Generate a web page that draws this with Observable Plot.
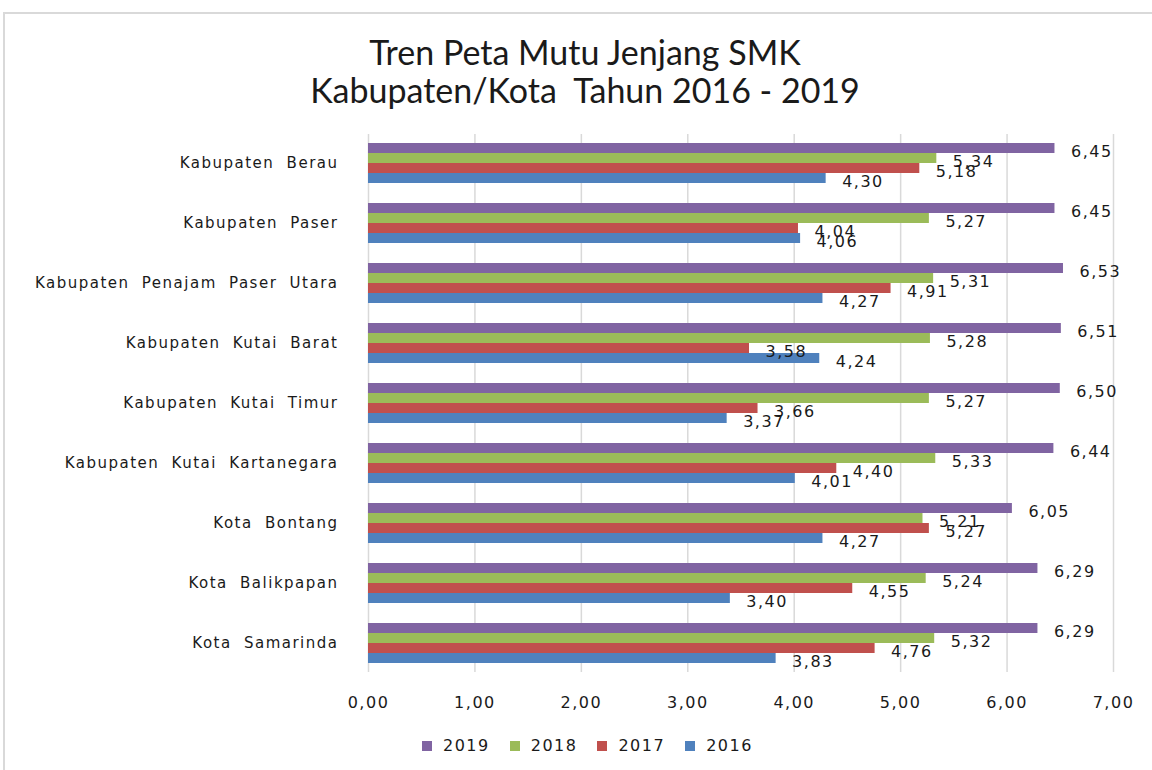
<!DOCTYPE html>
<html>
<head>
<meta charset="utf-8">
<script src="https://cdn.jsdelivr.net/npm/d3@7"></script>
<script src="https://cdn.jsdelivr.net/npm/@observablehq/plot@0.6"></script>
<style>
  body { margin:0; background:#fff; width:1152px; height:770px; overflow:hidden; position:relative; font-family:"DejaVu Sans", sans-serif; }
  #frame { position:absolute; left:3px; top:12px; width:1200px; height:800px; border:2px solid #d9d9d9; box-sizing:border-box; }
  #title { position:absolute; left:0; top:33px; width:1170px; text-align:center; font-family:Lato, sans-serif; font-size:34px; line-height:38px; color:#1a1a1a; white-space:pre; }
  #chart { position:absolute; left:0; top:120px; }
  #chart svg g[aria-label="y-axis tick label"] text { font-size:15px; letter-spacing:1.5px; word-spacing:6px; fill:#1a1a1a; }
  #chart svg g[aria-label="x-axis tick label"] text { font-size:16px; letter-spacing:1.5px; fill:#1a1a1a; }
  #chart svg g[aria-label="text"] text { letter-spacing:1.5px; fill:#1a1a1a; }
  #legend { position:absolute; left:422px; top:736px; display:flex; align-items:center; font-size:16px; line-height:19px; letter-spacing:1.5px; color:#1a1a1a; }
  #legend .item { display:flex; align-items:center; margin-right:20px; }
  #legend .sw { width:10px; height:10px; margin-right:11px; }
</style>
</head>
<body>
<div id="frame"></div>
<div id="title">Tren Peta Mutu Jenjang SMK
Kabupaten/Kota  Tahun 2016 - 2019</div>
<div id="chart"></div>
<div id="legend"></div>
<script>
const categories = ["Kabupaten Berau","Kabupaten Paser","Kabupaten Penajam Paser Utara","Kabupaten Kutai Barat","Kabupaten Kutai Timur","Kabupaten Kutai Kartanegara","Kota Bontang","Kota Balikpapan","Kota Samarinda"];
const years = ["2019","2018","2017","2016"];
const v2019 = [6.45,6.45,6.53,6.51,6.50,6.44,6.05,6.29,6.29];
const v2018 = [5.34,5.27,5.31,5.28,5.27,5.33,5.21,5.24,5.32];
const v2017 = [5.18,4.04,4.91,3.58,3.66,4.40,5.27,4.55,4.76];
const v2016 = [4.30,4.06,4.27,4.24,3.37,4.01,4.27,3.40,3.83];
const colors = ["#8064A2","#9BBB59","#C0504D","#4F81BD"];
const xTicks = [0,1,2,3,4,5,6,7];

const series = [v2019, v2018, v2017, v2016];
const rows = categories.flatMap((c, i) => years.map((y, j) => ({category: c, year: y, value: series[j][i]})));
const fmt = d => d.toFixed(2).replace(".", ",");

const barMarks = years.map((y, j) => Plot.barX(rows.filter(r => r.year === y), {
  x: "value", y: "category", fill: colors[j],
  insetTop: j * 10, insetBottom: (3 - j) * 10
}));
const labelMarks = years.map((y, j) => Plot.text(rows.filter(r => r.year === y), {
  x: "value", y: "category", text: d => fmt(d.value),
  textAnchor: "start", dx: 16, dy: j * 10 - 15 + 3, fontSize: 16
}));

const chart = Plot.plot({
  width: 1152, height: 620,
  marginLeft: 368, marginRight: 39, marginTop: 14, marginBottom: 68,
  style: {fontFamily: "DejaVu Sans, sans-serif", fontSize: "15px", color: "#1a1a1a", background: "transparent"},
  x: {domain: [0, 7], ticks: xTicks, tickFormat: fmt, tickSize: 0, tickPadding: 24, label: null},
  y: {domain: categories, paddingInner: 1/3, paddingOuter: 0.14, tickSize: 0, tickPadding: 30, label: null},
  marks: [
    Plot.ruleX(xTicks, {stroke: "#d9d9d9", strokeWidth: 1.5}),
    ...barMarks,
    ...labelMarks
  ]
});
document.getElementById("chart").appendChild(chart);

const legend = document.getElementById("legend");
years.forEach((y, j) => {
  const item = document.createElement("div");
  item.className = "item";
  const sw = document.createElement("span");
  sw.className = "sw";
  sw.style.background = colors[j];
  const t = document.createElement("span");
  t.textContent = y;
  item.appendChild(sw); item.appendChild(t);
  legend.appendChild(item);
});
</script>
</body>
</html>
